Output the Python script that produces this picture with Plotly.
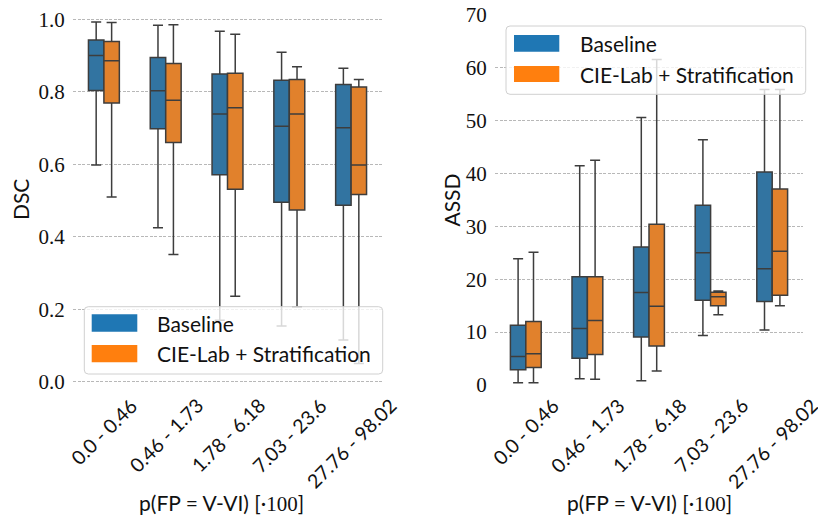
import plotly.graph_objects as go

categories = ["0.0 - 0.46", "0.46 - 1.73", "1.78 - 6.18", "7.03 - 23.6", "27.76 - 98.02"]
series_names = ["Baseline", "CIE-Lab + Stratification"]

# DSC (left panel)
dsc_base_low = [0.598, 0.425, 0.17, 0.154, 0.115]
dsc_base_q1 = [0.804, 0.698, 0.571, 0.495, 0.487]
dsc_base_med = [0.900, 0.803, 0.739, 0.705, 0.701]
dsc_base_q3 = [0.943, 0.895, 0.849, 0.832, 0.820]
dsc_base_up = [0.993, 0.984, 0.967, 0.909, 0.865]

dsc_cie_low = [0.510, 0.351, 0.236, 0.206, 0.05]
dsc_cie_q1 = [0.769, 0.660, 0.531, 0.474, 0.517]
dsc_cie_med = [0.886, 0.777, 0.756, 0.739, 0.598]
dsc_cie_q3 = [0.939, 0.878, 0.851, 0.834, 0.813]
dsc_cie_up = [0.991, 0.985, 0.959, 0.869, 0.834]

# ASSD (right panel)
assd_base_low = [0.44, 1.2, 0.8, 9.35, 10.4]
assd_base_q1 = [2.9, 5.06, 9.1, 16.05, 15.8]
assd_base_med = [5.4, 10.7, 17.5, 25.0, 22.0]
assd_base_q3 = [11.3, 20.5, 26.1, 34.0, 40.3]
assd_base_up = [23.9, 41.5, 50.6, 46.4, 55.9]

assd_cie_low = [0.44, 1.08, 2.65, 13.3, 15.0]
assd_cie_q1 = [3.3, 5.75, 7.4, 15.0, 17.0]
assd_cie_med = [5.9, 12.2, 14.9, 16.7, 25.3]
assd_cie_q3 = [12.0, 20.5, 30.4, 17.57, 37.1]
assd_cie_up = [25.1, 42.5, 61.6, 17.8, 55.9]

dsc_ticks = [0.0, 0.2, 0.4, 0.6, 0.8, 1.0]
assd_ticks = [0, 10, 20, 30, 40, 50, 60, 70]

box_fill = ["#3274a1", "#e1812c"]
legend_fill = ["#1f77b4", "#ff7f0e"]
edge = "#3d3d3d"
SANS = "Lato"
SERIF = "Liberation Serif"
FS = 21
FS_TICK = 19.5

W, H = 818, 518
L, R, T, B = 73, 803, 15, 385  # plot area in pixels


def px(x):
    return (x - L) / (R - L)


def py(y):
    return (B - y) / (B - T)


fig = go.Figure()

panels = [
    ("x", "y", [
        (dsc_base_low, dsc_base_q1, dsc_base_med, dsc_base_q3, dsc_base_up),
        (dsc_cie_low, dsc_cie_q1, dsc_cie_med, dsc_cie_q3, dsc_cie_up),
    ]),
    ("x2", "y2", [
        (assd_base_low, assd_base_q1, assd_base_med, assd_base_q3, assd_base_up),
        (assd_cie_low, assd_cie_q1, assd_cie_med, assd_cie_q3, assd_cie_up),
    ]),
]

for xa, ya, series in panels:
    for i, (lo, q1, med, q3, up) in enumerate(series):
        fig.add_trace(go.Box(
            x=categories, lowerfence=lo, q1=q1, median=med, q3=q3, upperfence=up,
            name=series_names[i], offsetgroup=str(i), xaxis=xa, yaxis=ya,
            fillcolor=box_fill[i], line=dict(color=edge, width=1.5),
            whiskerwidth=0.65, boxpoints=False, showlegend=False, hoverinfo="skip",
        ))

grid = dict(showgrid=True, gridcolor="#b8b8b8", gridwidth=0.8, griddash="3px,1.5px",
            zeroline=False, showline=False, ticks="outside", ticklen=3, automargin=False,
            tickcolor="rgba(0,0,0,0)", tickfont=dict(family=SERIF, size=FS, color="#111"))

fig.update_layout(
    template="none",
    width=W, height=H,
    margin=dict(l=L, r=W - R, t=T, b=H - B, pad=0, autoexpand=False),
    plot_bgcolor="white", paper_bgcolor="white",
    boxmode="group", boxgap=0.5, boxgroupgap=0.0,
    showlegend=False,
    xaxis=dict(domain=[0, px(382)], showgrid=False, showticklabels=False, ticks="", automargin=False,
               zeroline=False, showline=False, range=[-0.5, 4.5]),
    xaxis2=dict(domain=[px(495), 1], anchor="y2", showgrid=False, showticklabels=False, ticks="",
                automargin=False, zeroline=False, showline=False, range=[-0.5, 4.5]),
    yaxis=dict(domain=[0, 1], range=[-0.009, 1.012], tickvals=dsc_ticks, tickformat=".1f", **grid),
    yaxis2=dict(domain=[0, 1], anchor="x2", range=[0, 70], tickvals=assd_ticks, **grid),
)

ann = []
# category tick labels (rotated, centred under each group)
for xr in ["x", "x2"]:
    for c in categories:
        ann.append(dict(x=c, xref=xr, y=py(391), yref="paper", text=c, showarrow=False,
                        textangle=-45, xanchor="center", yanchor="top",
                        font=dict(family=SANS, size=FS_TICK, color="#111")))

xlabel = "p(FP = V-VI) [·<span style='font-family:Liberation Serif'>100</span>]"
for cx in [221, 649]:
    ann.append(dict(x=px(cx), y=py(503), xref="paper", yref="paper", text=xlabel, showarrow=False,
                    xanchor="center", yanchor="middle", font=dict(family=SANS, size=FS, color="#111")))

for cx, t in [(20, "DSC"), (450.5, "ASSD")]:
    ann.append(dict(x=px(cx), y=py(200), xref="paper", yref="paper", text=t, showarrow=False,
                    textangle=-90, xanchor="center", yanchor="middle",
                    font=dict(family=SANS, size=FS, color="#111")))

shapes = []


def rounded(x0, y0, x1, y1, r=4):
    # pixel coords -> paper path with rounded corners
    X = lambda v: px(v)
    Y = lambda v: py(v)
    p = (f"M {X(x0 + r)},{Y(y0)} L {X(x1 - r)},{Y(y0)} Q {X(x1)},{Y(y0)} {X(x1)},{Y(y0 + r)} "
         f"L {X(x1)},{Y(y1 - r)} Q {X(x1)},{Y(y1)} {X(x1 - r)},{Y(y1)} "
         f"L {X(x0 + r)},{Y(y1)} Q {X(x0)},{Y(y1)} {X(x0)},{Y(y1 - r)} "
         f"L {X(x0)},{Y(y0 + r)} Q {X(x0)},{Y(y0)} {X(x0 + r)},{Y(y0)} Z")
    return p


legends = [
    dict(frame=(84.3, 306.7, 382.7, 374), patch_x=(91.7, 137.3),
         rows=[(314.3, 331.7), (345, 362.3)], text_x=155),
    dict(frame=(506, 26, 805.7, 94.3), patch_x=(514, 559.3),
         rows=[(35, 51.7), (66, 82)], text_x=577.7),
]
for lg in legends:
    x0, y0, x1, y1 = lg["frame"]
    shapes.append(dict(type="path", xref="paper", yref="paper", path=rounded(x0, y0, x1, y1),
                       fillcolor="rgba(255,255,255,0.8)", line=dict(color="#d0d0d0", width=1),
                       layer="above"))
    for i, (ry0, ry1) in enumerate(lg["rows"]):
        shapes.append(dict(type="rect", xref="paper", yref="paper",
                           x0=px(lg["patch_x"][0]), x1=px(lg["patch_x"][1]),
                           y0=py(ry1), y1=py(ry0), fillcolor=legend_fill[i],
                           line=dict(width=0), layer="above"))
        ann.append(dict(x=px(lg["text_x"]), y=py((ry0 + ry1) / 2), xref="paper", yref="paper",
                        text=series_names[i], showarrow=False, xanchor="left", yanchor="middle",
                        font=dict(family=SANS, size=FS, color="#111")))

fig.update_layout(annotations=ann, shapes=shapes)
fig.write_html("out.html", config={"displayModeBar": False},
               post_script="document.body.style.margin='0';document.body.style.overflow='hidden';")
